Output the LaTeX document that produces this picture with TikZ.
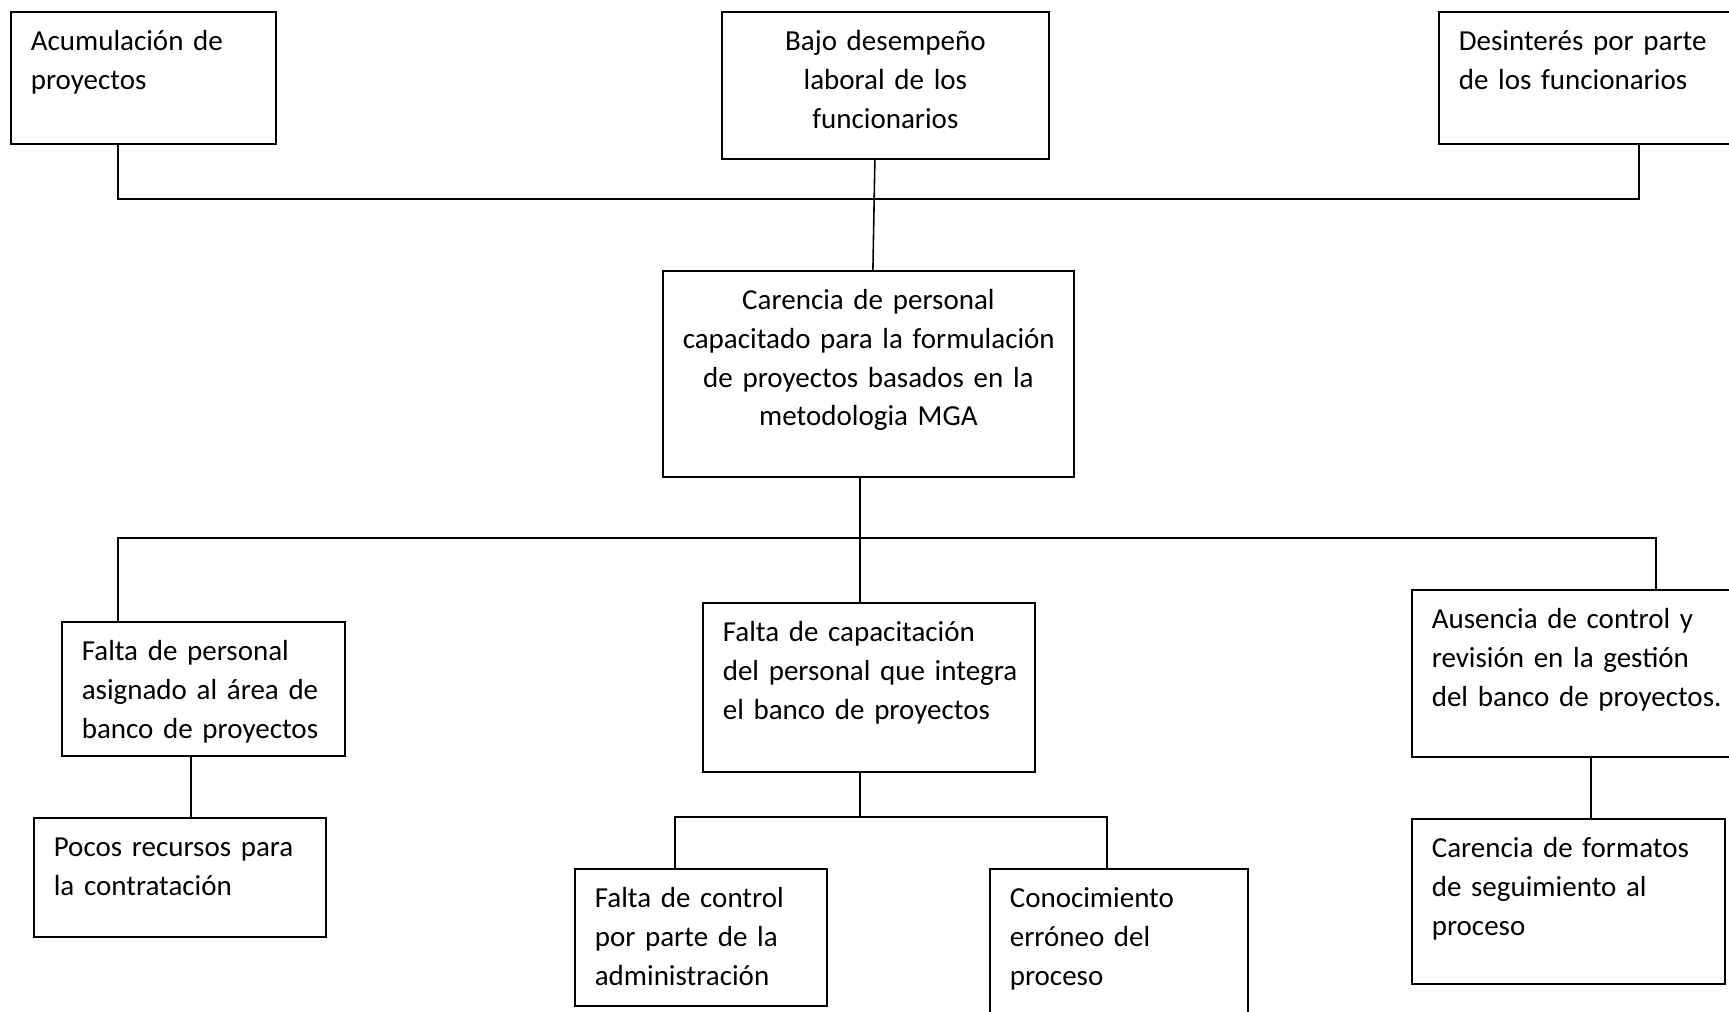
\documentclass[tikz,border=0pt]{standalone}
\usepackage{fontspec}
\setmainfont{Carlito}
\usepackage{tikz}
\usetikzlibrary{positioning}

\begin{document}
\begin{tikzpicture}[x=0.01cm, y=-0.01cm, line width=0.45pt,
	caja/.style={draw, anchor=north west, inner xsep=0.2cm, inner ysep=0pt,
		align=left, text height=0.39cm, font=\fontsize{8.25}{10.98}\selectfont},
	centrada/.style={caja, align=center}]
			\useasboundingbox (0,0) rectangle (1729,1012);
			
			\node[caja, text width=2.25cm, text depth=0.93cm] (acum) at (10,11) {Acumulación de\\proyectos};
			\node[centrada, text width=2.87cm, text depth=1.08cm] (bajo) at (721,11) {Bajo desempeño\\laboral de los\\funcionarios};
			\node[caja, text width=2.80cm, text depth=0.93cm] (desint) at (1438,11) {Desinterés por parte\\de los funcionarios};
			
			\node[centrada, text width=3.71cm, text depth=1.67cm] (carencia) at (662,270) {Carencia de personal\\\mbox{capacitado para la formulación}\\de proyectos basados en la\\metodologia MGA};
			
			\node[caja, text width=2.43cm, text depth=0.95cm] (faltapers) at (61,621) {Falta de personal\\asignado al área de\\banco de proyectos};
			\node[caja, text width=2.92cm, text depth=1.30cm] (faltacap) at (702,602) {Falta de capacitación\\\mbox{del personal que integra}\\el banco de proyectos};
			\node[caja, text width=3.00cm, text depth=1.28cm] (ausencia) at (1411,589) {Ausencia de control y\\revisión en la gestión\\\mbox{del banco de proyectos.}};
			
			\node[caja, text width=2.52cm, text depth=0.80cm] (pocos) at (33,817) {Pocos recursos para\\la contratación};
			\node[caja, text width=2.12cm, text depth=0.98cm] (faltactrl) at (574,868) {Falta de control\\por parte de la\\administración};
			\node[caja, text width=2.18cm, text depth=1.21cm] (conoc) at (989,868) {Conocimiento\\erróneo del\\proceso};
			\node[caja, text width=2.73cm, text depth=1.26cm] (formatos) at (1411,818) {Carencia de formatos\\de seguimiento al\\proceso};
			
			\coordinate (bus1a) at (118,199);
			\coordinate (bus1c) at (1639,199);
			\coordinate (bus2a) at (118,538);
			\coordinate (bus2m) at (860,538);
			\coordinate (bus2c) at (1656,538);
			\coordinate (bus3a) at (675,817);
			\coordinate (bus3m) at (860,817);
			\coordinate (bus3c) at (1107,817);
			\coordinate (x1) at (191,0);
			\coordinate (x2) at (1591,0);
			
			\draw (acum.south -| bus1a) -- (bus1a) -- (bus1c) -- (desint.south -| bus1c);
			\draw ([xshift=-0.105cm]bajo.south) -- ([xshift=0.045cm]carencia.north);
			\draw (carencia.south -| bus2m) -- (faltacap.north -| bus2m);
			\draw (faltapers.north -| bus2a) -- (bus2a) -- (bus2c) -- (ausencia.north -| bus2c);
			\draw (faltapers.south -| x1) -- (pocos.north -| x1);
			\draw (faltacap.south -| bus3m) -- (bus3m);
			\draw (faltactrl.north -| bus3a) -- (bus3a) -- (bus3c) -- (conoc.north -| bus3c);
			\draw (ausencia.south -| x2) -- (formatos.north -| x2);
		\end{tikzpicture}
\end{document}
